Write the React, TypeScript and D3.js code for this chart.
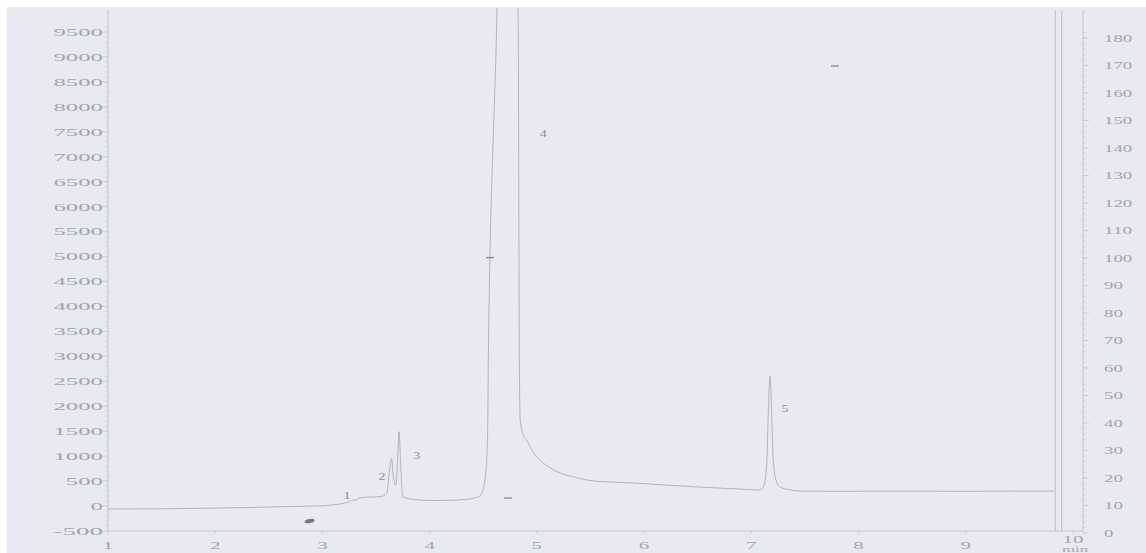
import React from "react";
import * as d3 from "d3";

// chromatogram trace (time in min, signal in left-axis units)
const times = [
  1.0, 1.5, 1.86, 2.3, 2.79, 3.0, 3.1, 3.2, 3.26, 3.28, 3.3, 3.35, 3.45, 3.55,
  3.6, 3.625, 3.645, 3.66, 3.685, 3.7, 3.715, 3.73, 3.75, 3.8, 3.91, 4.05, 4.19,
  4.32, 4.42, 4.48, 4.52, 4.54, 4.548, 4.563, 4.59, 4.62, 4.64, 4.7, 4.76, 4.8,
  4.825, 4.832, 4.836, 4.845, 4.87, 4.91, 4.96, 5.0, 5.1, 5.22, 5.35, 5.47, 5.7, 5.93,
  6.2, 6.52, 6.8, 7.0, 7.08, 7.12, 7.145, 7.16, 7.175, 7.19, 7.205, 7.23, 7.27,
  7.35, 7.46, 7.8, 8.39, 9.0, 9.4, 9.82,
];
const signal = [
  -60, -55, -45, -30, -5, 5, 25, 55, 95, 115, 115, 165, 180, 190,
  260, 700, 960, 600, 420, 900, 1490, 800, 180, 150, 120, 110, 115,
  130, 160, 230, 600, 1400, 3100, 5100, 7200, 9200, 11000, 12000, 12000, 11000,
  9800, 6000, 3000, 1700, 1450, 1300, 1100, 980, 800, 660, 580, 520, 480, 460,
  420, 380, 350, 330, 320, 420, 900, 2000, 2610, 1800, 900, 520, 380,
  330, 300, 295, 300, 295, 300, 300,
];

const peakLabels = ["1", "2", "3", "4", "5"];
const peakLabelTimes = [3.23, 3.556, 3.88, 5.06, 7.315];
const peakLabelValues = [220, 600, 1020, 7470, 1950];

// stray marks on the scanned record
const dashTimes = [4.563, 4.73, 7.78];
const dashValues = [4980, 160, 8820];
const blobTimes = [2.88];
const blobValues = [-300];

// axis ticks
const leftTicks = [-500, 0, 500, 1000, 1500, 2000, 2500, 3000, 3500, 4000, 4500, 5000, 5500, 6000, 6500, 7000, 7500, 8000, 8500, 9000, 9500];
const rightTicks = [0, 10, 20, 30, 40, 50, 60, 70, 80, 90, 100, 110, 120, 130, 140, 150, 160, 170, 180];
const xTicks = [1, 2, 3, 4, 5, 6, 7, 8, 9, 10];
const endMarkerTimes = [9.835, 9.895];

const W = 1146;
const H = 553;

export default function App() {
  const x = d3.scaleLinear().domain([1, 10]).range([108, 1073]);
  const y = d3.scaleLinear().domain([-500, 9500]).range([531, 32]);
  const yR = d3.scaleLinear().domain([0, 180]).range([533, 38]);

  const pts: [number, number][] = times.map((t, i) => [t, signal[i]]);
  const line = d3
    .line<[number, number]>()
    .x((d) => x(d[0]))
    .y((d) => y(d[1]))
    .curve(d3.curveMonotoneX);

  const textCol = "#a3a3b0";
  const lineCol = "#b2b2c0";
  const tickCol = "#c4c4d0";
  const font = "'Liberation Serif', 'DejaVu Serif', serif";
  const axisRight = 1083;

  const leftMinor = d3.range(-500, 9601, 100);
  const rightMinor = d3.range(0, 183, 2);

  return (
    <svg
      width={W}
      height={H}
      style={{ position: "absolute", left: 0, top: 0, display: "block" }}
    >
      <defs>
        <clipPath id="plot">
          <rect x={x(1)} y={8} width={axisRight - x(1)} height={531 - 8} />
        </clipPath>
      </defs>
      <rect x={0} y={0} width={W} height={H} fill="#ffffff" />
      <rect x={7} y={7} width={W - 7} height={H - 7} fill="#e9e9f2" />

      {/* left axis */}
      <line x1={x(1)} x2={x(1)} y1={10} y2={531} stroke={tickCol} strokeWidth={1} />
      {leftMinor.map((v) => (
        <line key={"lm" + v} x1={x(1) - 3} x2={x(1)} y1={y(v)} y2={y(v)} stroke={tickCol} strokeWidth={0.5} />
      ))}
      {leftTicks.map((v) => (
        <g key={"lt" + v}>
          <line x1={x(1) - 6} x2={x(1)} y1={y(v)} y2={y(v)} stroke={tickCol} strokeWidth={0.7} />
          <text
            x={103}
            y={y(v)}
            dy="0.35em"
            textAnchor="end"
            fontFamily={font}
            fontSize={11}
            fill={textCol}
            textLength={String(v).length * 12.4}
            lengthAdjust="spacingAndGlyphs"
          >
            {String(v)}
          </text>
        </g>
      ))}

      {/* right axis */}
      <line x1={axisRight} x2={axisRight} y1={10} y2={533} stroke={tickCol} strokeWidth={1} />
      {rightMinor.map((v) => (
        <line key={"rm" + v} x1={axisRight} x2={axisRight + 3} y1={yR(v)} y2={yR(v)} stroke={tickCol} strokeWidth={0.5} />
      ))}
      {rightTicks.map((v) => (
        <g key={"rt" + v}>
          <line x1={axisRight} x2={axisRight + 6} y1={yR(v)} y2={yR(v)} stroke={tickCol} strokeWidth={0.7} />
          <text
            x={1104}
            y={yR(v)}
            dy="0.35em"
            textAnchor="start"
            fontFamily={font}
            fontSize={11}
            fill={textCol}
            textLength={String(v).length * 9.4}
            lengthAdjust="spacingAndGlyphs"
          >
            {String(v)}
          </text>
        </g>
      ))}

      {/* end-of-run markers */}
      {endMarkerTimes.map((t) => (
        <line key={"em" + t} x1={x(t)} x2={x(t)} y1={10} y2={531} stroke={lineCol} strokeWidth={0.8} />
      ))}

      {/* x axis */}
      <line x1={x(1)} x2={axisRight} y1={y(-500)} y2={y(-500)} stroke={tickCol} strokeWidth={1} />
      {xTicks.map((t) => (
        <g key={"xt" + t}>
          <line x1={x(t)} x2={x(t)} y1={y(-500)} y2={y(-500) + 3} stroke={tickCol} strokeWidth={0.7} />
          <text
            x={x(t)}
            y={t === 10 ? 539 : 545}
            dy="0.35em"
            textAnchor="middle"
            fontFamily={font}
            fontSize={t === 10 ? 10 : 11}
            fill={textCol}
            textLength={String(t).length * 10.5}
            lengthAdjust="spacingAndGlyphs"
          >
            {String(t)}
          </text>
        </g>
      ))}
      <text
        x={x(10) + 2}
        y={552}
        textAnchor="middle"
        fontFamily={font}
        fontSize={8}
        fill={textCol}
        textLength={26}
        lengthAdjust="spacingAndGlyphs"
      >
        min
      </text>

      {/* chromatogram */}
      <g clipPath="url(#plot)">
        <path d={line(pts) || ""} fill="none" stroke={lineCol} strokeWidth={1} strokeLinejoin="round" />
      </g>

      {/* peak numbers */}
      {peakLabels.map((lab, i) => (
        <text
          key={"pl" + lab}
          x={x(peakLabelTimes[i])}
          y={y(peakLabelValues[i])}
          dy="0.35em"
          textAnchor="middle"
          fontFamily={font}
          fontSize={10}
          fill="#8c8c99"
          textLength={7}
          lengthAdjust="spacingAndGlyphs"
        >
          {lab}
        </text>
      ))}

      {/* stray marks */}
      {dashTimes.map((t, i) => (
        <line
          key={"d" + i}
          x1={x(t) - 4}
          x2={x(t) + 4}
          y1={y(dashValues[i])}
          y2={y(dashValues[i])}
          stroke="#85858f"
          strokeWidth={1.3}
        />
      ))}
      {blobTimes.map((t, i) => (
        <ellipse key={"b" + i} cx={x(t)} cy={y(blobValues[i])} rx={5} ry={2} fill="#767682" transform={`rotate(-10 ${x(t)} ${y(blobValues[i])})`} />
      ))}
    </svg>
  );
}
